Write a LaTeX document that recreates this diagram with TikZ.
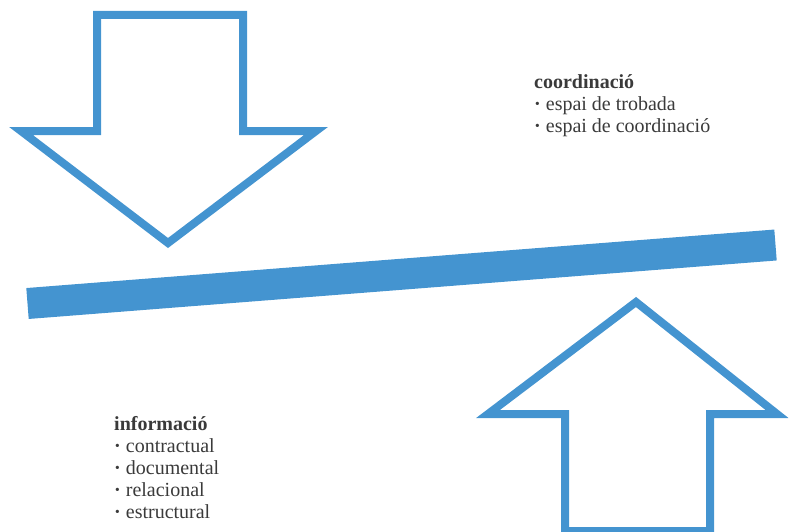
\documentclass[tikz,border=0pt]{standalone}
\usepackage{fontspec}
\setmainfont{Liberation Serif}
\definecolor{barblue}{HTML}{4494D0}
\definecolor{txtgray}{HTML}{3A3A3A}
\newcommand{\itemdot}{\textbf{·}\ }
\begin{document}
\begin{tikzpicture}[x=1pt,y=-1pt,line join=miter,
	arrowline/.style={draw=barblue,line width=8pt},
	listtext/.style={anchor=north west,inner sep=0pt,align=left,text=txtgray,
		font=\fontsize{20}{22}\selectfont}]
	\useasboundingbox (0,0) rectangle (789,532);
	% arrow down
	\draw[arrowline] (97,15)--(243,15)--(243,131)--(316,131)--(168,243)--(21,131)--(97,131)--cycle;
	% arrow up
	\draw[arrowline] (565,536)--(565,414)--(488,414)--(636,302)--(777,414)--(710,414)--(710,536);
	\draw[arrowline] (565,531)--(710,531);
	% bar
	\draw[barblue,line width=31pt] (27.5,303.5)--(775.5,245);
	\node[listtext] (coord) at (534,74) {\textbf{coordinació}\\ \itemdot espai de trobada\\ \itemdot espai de coordinació};
	\node[listtext] (info) at (114,416) {\textbf{informació}\\ \itemdot contractual\\ \itemdot documental\\ \itemdot relacional\\ \itemdot estructural};
\end{tikzpicture}
\end{document}
